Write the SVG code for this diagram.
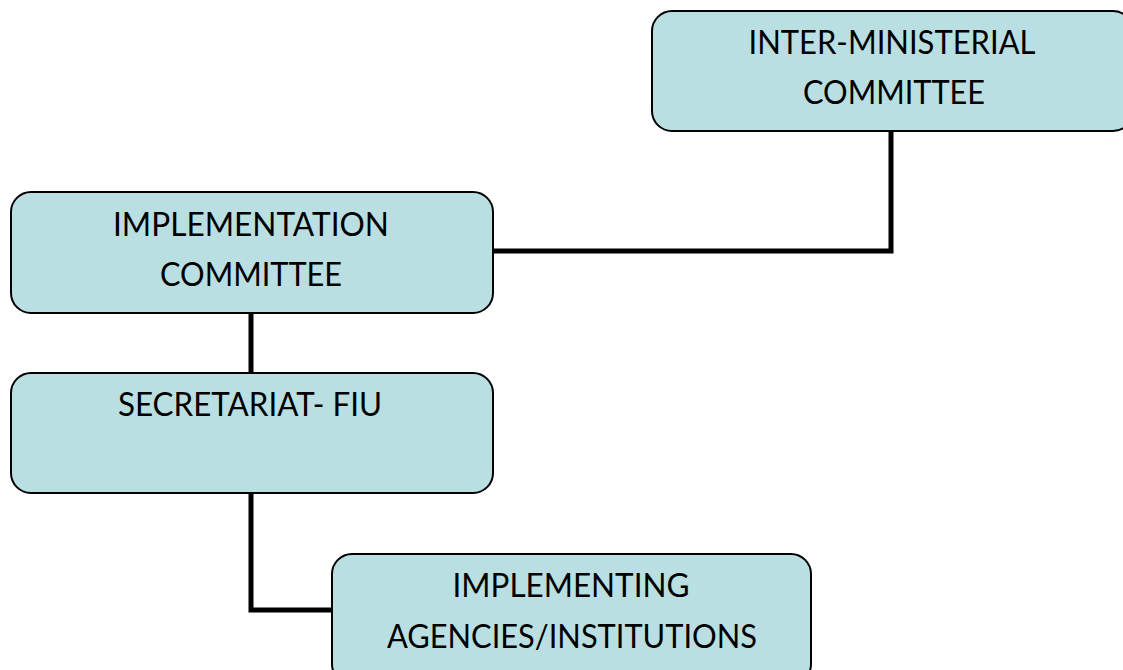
<svg xmlns="http://www.w3.org/2000/svg" width="1123" height="670" viewBox="0 0 1123 670">
<style>
.box{fill:#b9dfe3;stroke:#000;stroke-width:2}
.lbl{font-family:Lato,"Open Sans",sans-serif;font-size:32px;fill:#000;text-anchor:middle}
.conn{fill:none;stroke:#000;stroke-width:5;stroke-linejoin:miter}
</style>
<rect width="1123" height="670" fill="#fff"/>
<g id="connectors">
<polyline class="conn" points="891,131 891,251 493,251"/>
<polyline class="conn" points="251,313 251,373"/>
<polyline class="conn" points="251,493 251,610 332,610"/>
</g>
<g id="inter-ministerial">
<rect class="box" x="652" y="11" width="481" height="120" rx="20"/>
<text class="lbl" x="892" y="54" textLength="287" lengthAdjust="spacingAndGlyphs">INTER-MINISTERIAL</text>
<text class="lbl" x="894" y="104" textLength="182" lengthAdjust="spacingAndGlyphs">COMMITTEE</text>
</g>
<g id="implementation">
<rect class="box" x="11" y="192" width="482" height="121" rx="20"/>
<text class="lbl" x="251" y="236" textLength="276" lengthAdjust="spacingAndGlyphs">IMPLEMENTATION</text>
<text class="lbl" x="251" y="286" textLength="182" lengthAdjust="spacingAndGlyphs">COMMITTEE</text>
</g>
<g id="secretariat">
<rect class="box" x="11" y="373" width="482" height="120" rx="20"/>
<text class="lbl" x="250" y="416" textLength="264" lengthAdjust="spacingAndGlyphs">SECRETARIAT- FIU</text>
</g>
<g id="agencies">
<rect class="box" x="332" y="554" width="479" height="130" rx="20"/>
<text class="lbl" x="571" y="597" textLength="237" lengthAdjust="spacingAndGlyphs">IMPLEMENTING</text>
<text class="lbl" x="572" y="648" textLength="370" lengthAdjust="spacingAndGlyphs">AGENCIES/INSTITUTIONS</text>
</g>
</svg>
